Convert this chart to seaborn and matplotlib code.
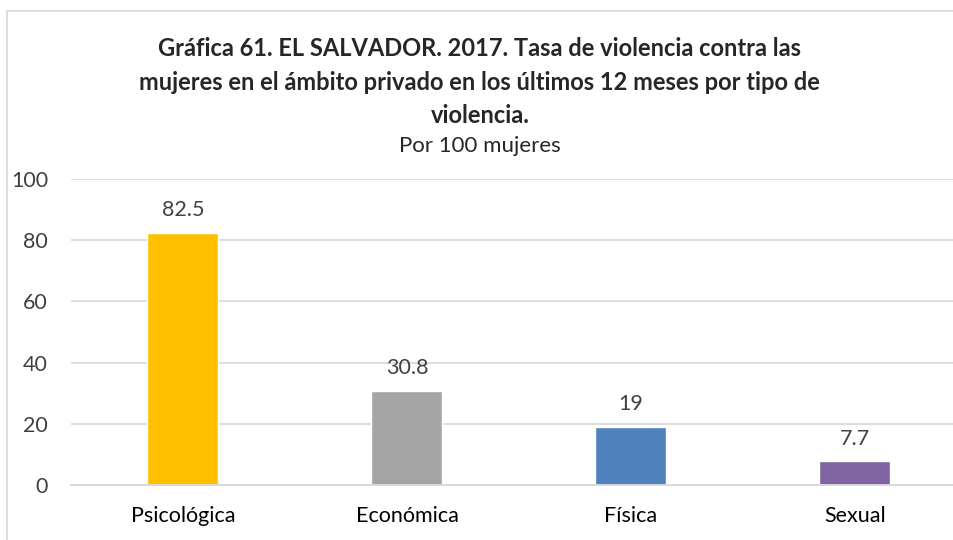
import seaborn as sns
import matplotlib.pyplot as plt
import pandas as pd

# Datos
categorias = ['Psicológica', 'Económica', 'Física', 'Sexual']
tasas = [82.5, 30.8, 19, 7.7]
etiquetas = ['82.5', '30.8', '19', '7.7']
colores = ['#FFC000', '#A5A5A5', '#4F81BD', '#8064A2']

df = pd.DataFrame({'tipo': categorias, 'tasa': tasas})

sns.set_style('white')
plt.rcParams['font.family'] = ['Lato', 'DejaVu Sans']

fig = plt.figure(figsize=(9.54, 5.4), dpi=100)
ax = fig.add_axes([0.0744, 0.1019, 0.9392, 0.5666])

sns.barplot(data=df, x='tipo', y='tasa', hue='tipo', palette=colores,
            width=0.317, legend=False, ax=ax, saturation=1)

ax.set_ylim(0, 100)
ax.set_yticks(range(0, 101, 20))
ax.yaxis.grid(True, color='#D9D9D9', linewidth=1.3)
ax.set_axisbelow(True)
for s in ['left', 'right', 'top']:
    ax.spines[s].set_visible(False)
ax.spines['bottom'].set_color('#D9D9D9')
ax.spines['bottom'].set_linewidth(1.3)
ax.tick_params(axis='both', length=0, labelsize=15.5, colors='#404040')
ax.tick_params(axis='x', pad=15, labelcolor='#000000')
ax.tick_params(axis='y', pad=16.5)
ax.set_xlabel('')
ax.set_ylabel('')

for bar, txt in zip(ax.patches, etiquetas):
    ax.annotate(txt, (bar.get_x() + bar.get_width() / 2, bar.get_height()),
                xytext=(0, 9), textcoords='offset points',
                ha='center', va='bottom', fontsize=15.5, color='#404040')

# Títulos
fig.text(0.503, 0.911, 'Gráfica 61. EL SALVADOR. 2017. Tasa de violencia contra las',
         ha='center', va='center', fontsize=17, fontweight='bold')
fig.text(0.503, 0.847, 'mujeres en el ámbito privado en los últimos 12 meses por tipo de',
         ha='center', va='center', fontsize=17, fontweight='bold')
fig.text(0.503, 0.787, 'violencia.',
         ha='center', va='center', fontsize=17, fontweight='bold')
fig.text(0.503, 0.729, 'Por 100 mujeres',
         ha='center', va='center', fontsize=16)

# Marco del gráfico
fig.add_artist(plt.Line2D([0.0073, 0.0073], [0, 0.98], transform=fig.transFigure,
                          color='#D9D9D9', linewidth=1.3))
fig.add_artist(plt.Line2D([0.0073, 1], [0.98, 0.98], transform=fig.transFigure,
                          color='#D9D9D9', linewidth=1.3))

plt.savefig('out.png', dpi=100)
